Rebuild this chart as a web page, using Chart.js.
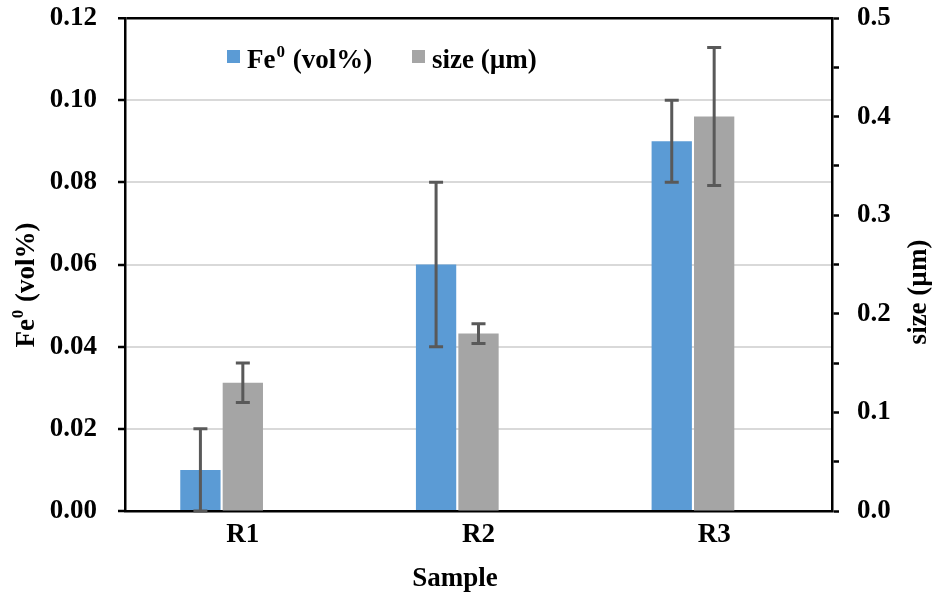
<!DOCTYPE html>
<html>
<head>
<meta charset="utf-8">
<script src="https://cdn.jsdelivr.net/npm/chart.js@4/dist/chart.umd.min.js"></script>
<style>
html,body{margin:0;padding:0;background:#fff;}
#wrap{width:935px;height:595px;position:relative;}
</style>
</head>
<body>
<div id="wrap"><canvas id="c" width="935" height="595"></canvas></div>
<script>
// ---- data ----
const categories = ['R1', 'R2', 'R3'];
const feValues = [0.01, 0.06, 0.09];
const feErrors = [0.01, 0.02, 0.01];
const sizeValues = [0.13, 0.18, 0.40];
const sizeErrors = [0.02, 0.01, 0.07];
const leftTickValues = [0, 0.02, 0.04, 0.06, 0.08, 0.10, 0.12];
const leftTickLabels = ['0.00', '0.02', '0.04', '0.06', '0.08', '0.10', '0.12'];
const rightTickValues = [0, 0.1, 0.2, 0.3, 0.4, 0.5];
const rightTickLabels = ['0.0', '0.1', '0.2', '0.3', '0.4', '0.5'];
const rightMinorTickValues = [0.05, 0.15, 0.25, 0.35, 0.45];
// series / axis names: [base, superscript, rest]
const feName = ['Fe', '0', ' (vol%)'];
const sizeName = ['size (\u00b5m)', '', ''];
const xTitle = 'Sample';

const FONT = '"Liberation Serif", "Times New Roman", serif';
const FS = 27;
const BLUE = '#5B9BD5';
const GRAY = '#A5A5A5';

Chart.defaults.font.family = FONT;
Chart.defaults.font.weight = 'bold';
Chart.defaults.font.size = FS;
Chart.defaults.color = '#000';

const near = (a, b) => Math.abs(a - b) < 1e-9;

function richWidth(ctx, parts) {
  ctx.font = 'bold ' + FS + 'px ' + FONT;
  let w = ctx.measureText(parts[0]).width + ctx.measureText(parts[2]).width;
  ctx.font = 'bold ' + Math.round(FS * 0.62) + 'px ' + FONT;
  w += ctx.measureText(parts[1]).width;
  return w;
}
function drawRich(ctx, parts, x, y) {
  // left aligned, baseline middle
  ctx.textAlign = 'left';
  ctx.textBaseline = 'middle';
  ctx.font = 'bold ' + FS + 'px ' + FONT;
  ctx.fillText(parts[0], x, y);
  x += ctx.measureText(parts[0]).width;
  if (parts[1]) {
    ctx.font = 'bold ' + Math.round(FS * 0.62) + 'px ' + FONT;
    ctx.fillText(parts[1], x + 1, y - FS * 0.3);
    x += ctx.measureText(parts[1]).width + 2;
  }
  ctx.font = 'bold ' + FS + 'px ' + FONT;
  ctx.fillText(parts[2], x, y);
}

const errorBars = {
  id: 'errorBars',
  afterDatasetsDraw(chart) {
    const ctx = chart.ctx;
    [[0, feErrors, 'y'], [1, sizeErrors, 'y1']].forEach(([di, errs, axis]) => {
      const meta = chart.getDatasetMeta(di);
      const scale = chart.scales[axis];
      const vals = chart.data.datasets[di].data;
      meta.data.forEach((bar, i) => {
        const x = bar.x;
        const yHi = scale.getPixelForValue(vals[i] + errs[i]);
        const yLo = scale.getPixelForValue(Math.max(0, vals[i] - errs[i]));
        ctx.save();
        ctx.strokeStyle = '#595959';
        ctx.lineWidth = 3;
        ctx.beginPath();
        ctx.moveTo(x, yHi); ctx.lineTo(x, yLo);
        ctx.moveTo(x - 7, yHi); ctx.lineTo(x + 7, yHi);
        ctx.moveTo(x - 7, yLo); ctx.lineTo(x + 7, yLo);
        ctx.stroke();
        ctx.restore();
      });
    });
  }
};

const customText = {
  id: 'customText',
  afterDraw(chart) {
    const ctx = chart.ctx;
    ctx.save();
    ctx.fillStyle = '#000';
    ctx.font = 'bold ' + FS + 'px ' + FONT;
    ctx.textAlign = 'center';
    ctx.textBaseline = 'middle';
    // x title
    ctx.fillText(xTitle, 455, 579);
    // left title
    ctx.save();
    ctx.translate(27, 286);
    ctx.rotate(-Math.PI / 2);
    drawRich(ctx, feName, -richWidth(ctx, feName) / 2, 0);
    ctx.restore();
    // right title
    ctx.save();
    ctx.translate(919, 292);
    ctx.rotate(-Math.PI / 2);
    drawRich(ctx, sizeName, -richWidth(ctx, sizeName) / 2, 0);
    ctx.restore();
    // legend
    const items = [
      {x: 227, color: chart.data.datasets[0].backgroundColor, parts: feName},
      {x: 412, color: chart.data.datasets[1].backgroundColor, parts: sizeName}
    ];
    items.forEach(it => {
      ctx.fillStyle = it.color;
      ctx.fillRect(it.x, 50, 13, 13);
      ctx.fillStyle = '#000';
      drawRich(ctx, it.parts, it.x + 20, 61);
    });
    ctx.restore();
  }
};

new Chart(document.getElementById('c'), {
  type: 'bar',
  data: {
    labels: categories,
    datasets: [
      {label: feName.join(''), data: feValues, backgroundColor: BLUE, yAxisID: 'y'},
      {label: sizeName.join(''), data: sizeValues, backgroundColor: GRAY, yAxisID: 'y1'},
      {label: '', data: categories.map(() => 0), backgroundColor: 'rgba(0,0,0,0)', yAxisID: 'y'}
    ]
  },
  options: {
    responsive: false,
    animation: false,
    categoryPercentage: 0.54,
    barPercentage: 0.95,
    layout: {padding: {top: 18, left: 0, right: 0, bottom: 0}},
    plugins: {legend: {display: false}, tooltip: {enabled: false}, title: {display: false}},
    scales: {
      x: {
        offset: true,
        grid: {display: false, drawTicks: false},
        border: {display: true, color: '#000', width: 2.5},
        ticks: {color: '#000', font: {size: FS, weight: 'bold'}, padding: 8},
        afterFit(s) { s.height = 84; s.paddingLeft = 0; s.paddingRight = 0; }
      },
      y: {
        position: 'left',
        min: 0, max: 0.12,
        afterBuildTicks(s) { s.ticks = leftTickValues.map(v => ({value: v})); },
        ticks: {
          padding: 21, color: '#000', font: {size: FS, weight: 'bold'},
          callback(v) { const i = leftTickValues.findIndex(t => near(t, v)); return i >= 0 ? leftTickLabels[i] : ''; }
        },
        grid: {
          color(c) { const v = c.tick ? c.tick.value : null; if (v === null || near(v, 0)) return 'rgba(0,0,0,0)'; return near(v, 0.12) ? '#000' : '#d9d9d9'; },
          lineWidth(c) { const v = c.tick ? c.tick.value : null; return v !== null && near(v, 0.12) ? 2.5 : 2; },
          tickLength: 7, tickColor: '#000', tickWidth: 2.5
        },
        border: {display: true, color: '#000', width: 2.5},
        afterFit(s) { s.width = 125; s.paddingTop = 0; s.paddingBottom = 0; }
      },
      y1: {
        position: 'right',
        min: 0, max: 0.5,
        afterBuildTicks(s) { s.ticks = rightTickValues.concat(rightMinorTickValues).sort((a, b) => a - b).map(v => ({value: v})); },
        ticks: {
          padding: 18, color: '#000', font: {size: FS, weight: 'bold'}, autoSkip: false,
          callback(v) { const i = rightTickValues.findIndex(t => near(t, v)); return i >= 0 ? rightTickLabels[i] : ''; }
        },
        grid: {drawOnChartArea: false, tickLength: 7, tickColor: '#000', tickWidth: 2.5},
        border: {display: true, color: '#000', width: 2.5},
        afterFit(s) { s.width = 103; s.paddingTop = 0; s.paddingBottom = 0; }
      }
    }
  },
  plugins: [errorBars, customText]
});
</script>
</body>
</html>
